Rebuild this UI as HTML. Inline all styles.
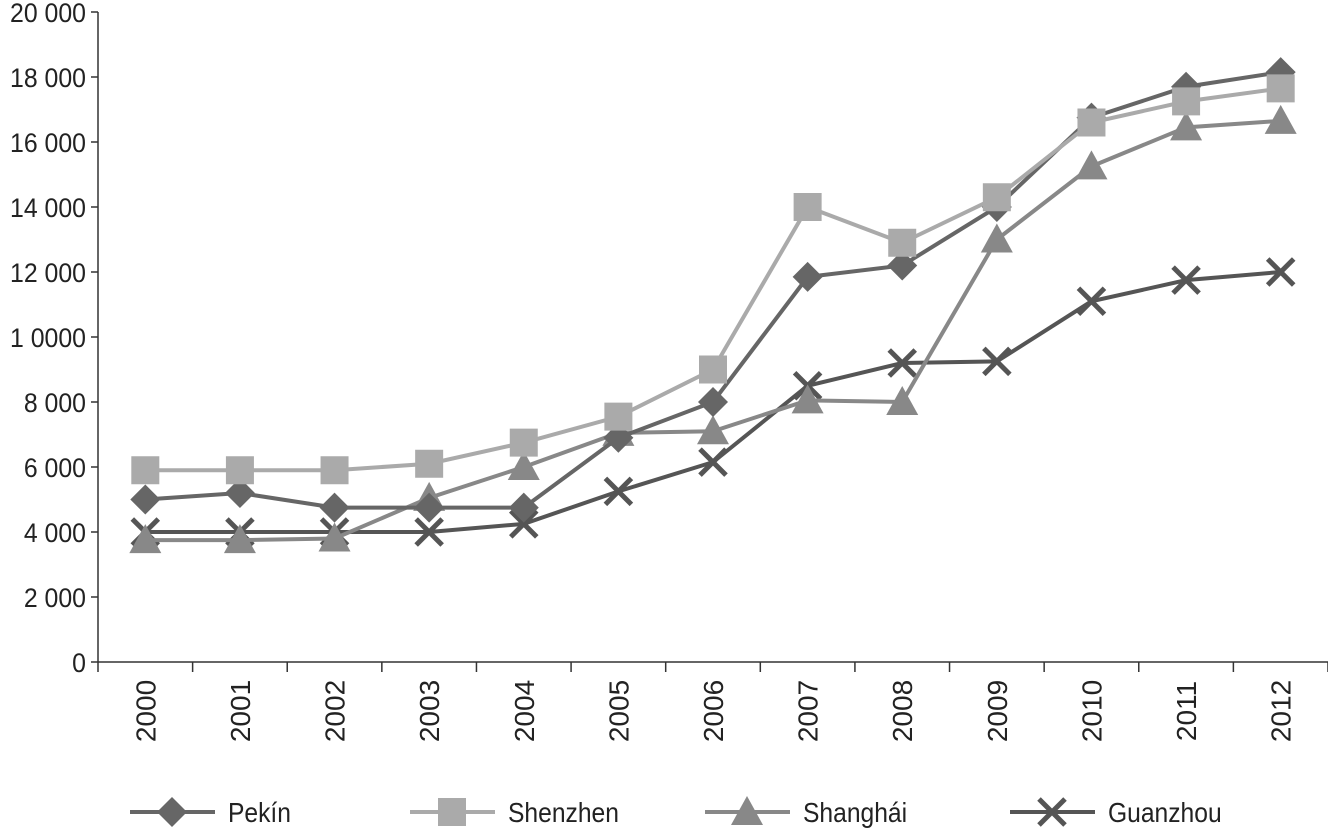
<!DOCTYPE html>
<html><head><meta charset="utf-8">
<style>
html,body{margin:0;padding:0;background:#fff;}
svg{display:block;font-family:"Liberation Sans Narrow","Liberation Sans",sans-serif;}
</style></head>
<body>
<svg id="chart" width="1328" height="837" viewBox="0 0 1328 837" xmlns="http://www.w3.org/2000/svg"></svg>
<script>
const categories = ["2000","2001","2002","2003","2004","2005","2006","2007","2008","2009","2010","2011","2012"];
const pekin    = [5000,5200,4750,4750,4750,6900,8000,11850,12200,14000,16750,17700,18150];
const shenzhen = [5900,5900,5900,6100,6750,7550,9000,14000,12900,14300,16600,17250,17650];
const shanghai = [3750,3750,3800,5050,6000,7050,7100,8050,8000,13000,15250,16450,16650];
const guanzhou = [4000,4000,4000,4000,4250,5250,6150,8500,9200,9250,11100,11750,12000];
const yTicks = [0,2000,4000,6000,8000,10000,12000,14000,16000,18000,20000];
const yTickLabels = ["0","2 000","4 000","6 000","8 000","1 0000","12 000","14 000","16 000","18 000","20 000"];
const seriesNames = ["Pekín","Shenzhen","Shanghái","Guanzhou"];

const NS="http://www.w3.org/2000/svg";
const svg=document.getElementById('chart');
const L=98,R=1328,T=12,B=662,YMAX=20000;
const band=(R-L)/categories.length;
const x=i=>L+band*(i+0.5);
const y=v=>B-(v/YMAX)*(B-T);
function mk(tag,attrs,parent){const e=document.createElementNS(NS,tag);for(const k in attrs)e.setAttribute(k,attrs[k]);(parent||svg).appendChild(e);return e;}

const ax=mk('g',{});


mk('line',{x1:L,y1:T,x2:L,y2:B,stroke:'#333','stroke-width':1.5},ax);
mk('line',{x1:L,y1:B,x2:R,y2:B,stroke:'#333','stroke-width':1.5},ax);
yTicks.forEach((v,i)=>{
  mk('line',{x1:L-7,y1:y(v),x2:L,y2:y(v),stroke:'#333','stroke-width':1.5},ax);
  const t=mk('text',{x:0,y:0,'text-anchor':'end','font-size':27,fill:'#222',transform:`translate(86 ${y(v)+10}) scale(0.92 1)`},ax);
  t.textContent=yTickLabels[i];
  
  
});
for(let i=0;i<=categories.length;i++){
  mk('line',{x1:L+band*i,y1:B,x2:L+band*i,y2:B+10,stroke:'#333','stroke-width':1.5},ax);
}
categories.forEach((c,i)=>{
  const t=mk('text',{x:0,y:0,'text-anchor':'middle','font-size':28,fill:'#222',transform:`translate(${x(i)+10} 711) rotate(-90)`},ax);
  t.textContent=c;
  
  
});

function marker(g,type,cx,cy,color){
  if(type==='diamond') mk('polygon',{points:`${cx},${cy-15} ${cx+15},${cy} ${cx},${cy+15} ${cx-15},${cy}`,fill:color},g);
  else if(type==='square') mk('rect',{x:cx-14,y:cy-14,width:28,height:28,fill:color},g);
  else if(type==='triangle') mk('polygon',{points:`${cx},${cy-16} ${cx+16},${cy+13} ${cx-16},${cy+13}`,fill:color},g);
  else { mk('line',{x1:cx-13,y1:cy-13,x2:cx+13,y2:cy+13,stroke:color,'stroke-width':5},g);
         mk('line',{x1:cx-13,y1:cy+13,x2:cx+13,y2:cy-13,stroke:color,'stroke-width':5},g); }
}
const series=[
  {data:pekin,color:'#666',m:'diamond',name:'pekin'},
  {data:shenzhen,color:'#aaa',m:'square',name:'shenzhen'},
  {data:shanghai,color:'#888',m:'triangle',name:'shanghai'},
  {data:guanzhou,color:'#555',m:'x',name:'guanzhou'}
];
[3,2,0,1].forEach(si=>{
  const s=series[si];
  const g=mk('g',{});
  
  
  mk('polyline',{points:s.data.map((v,i)=>x(i)+','+y(v)).join(' '),fill:'none',stroke:s.color,'stroke-width':4},g);
  s.data.forEach((v,i)=>marker(g,s.m,x(i),y(v),s.color));
});

const legX=[130,410,705,1010];
series.forEach((s,i)=>{
  const g=mk('g',{});
  
  
  const lx=legX[i],ly=812;
  mk('line',{x1:lx,y1:ly,x2:lx+85,y2:ly,stroke:s.color,'stroke-width':4},g);
  marker(g,s.m,lx+42,ly,s.color);
  const t=mk('text',{x:0,y:0,'font-size':28,fill:'#222',transform:`translate(${lx+98} ${ly+10}) scale(0.88 1)`},g);
  t.textContent=seriesNames[i];
});
</script>
</body></html>
